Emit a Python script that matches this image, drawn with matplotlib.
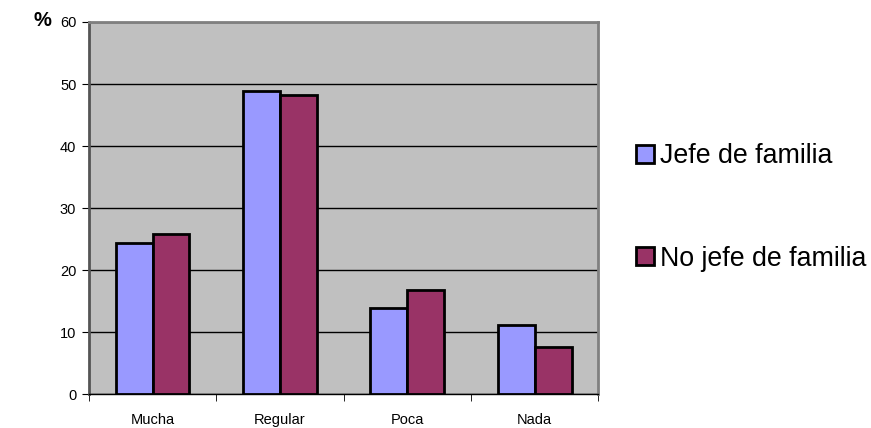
import numpy as np
import matplotlib
matplotlib.use('Agg')
from matplotlib import pyplot as plt
from matplotlib.ticker import FixedLocator

# data
categorias = ['Mucha', 'Regular', 'Poca', 'Nada']
jefe = [24.4, 48.8, 13.9, 11.1]
no_jefe = [25.8, 48.3, 16.7, 7.6]
series = ['Jefe de familia', 'No jefe de familia']

plt.rcParams['font.family'] = ['Liberation Sans', 'DejaVu Sans']

fig = plt.figure(figsize=(8.71, 4.28), dpi=100)
ax = fig.add_axes([0.102, 0.0794, 0.585, 0.8692])
ax.set_facecolor('#C0C0C0')

x = np.arange(len(categorias))
w = 0.29
ax.bar(x - w / 2, jefe, w, color='#9999FF', edgecolor='black', linewidth=2, label=series[0], zorder=3)
ax.bar(x + w / 2, no_jefe, w, color='#993366', edgecolor='black', linewidth=2, label=series[1], zorder=3)

ax.set_xlim(-0.5, len(categorias) - 0.5)
ax.set_ylim(0, 60)
ax.set_yticks(range(0, 61, 10))
ax.set_xticks(x)
ax.set_xticklabels(categorias, fontsize=10.5)
ax.tick_params(axis='x', which='major', length=0, pad=14)
ax.xaxis.set_minor_locator(FixedLocator(np.arange(-0.5, len(categorias), 1)))
ax.tick_params(axis='x', which='minor', length=5, direction='out', color='black')
ax.tick_params(axis='y', length=5, direction='out', labelsize=10.5, pad=4)

ax.yaxis.grid(True, color='black', linewidth=1)
ax.set_axisbelow(True)
for s in ['top', 'right', 'left']:
    ax.spines[s].set_color('#808080')
    ax.spines[s].set_linewidth(2)
ax.spines['left'].set_color('#555555')
ax.spines['bottom'].set_color('black')
ax.spines['bottom'].set_linewidth(1)

fig.text(0.038, 0.953, '%', fontsize=14.5, fontweight='bold', ha='left', va='center')

leg = fig.legend(loc='center left', bbox_to_anchor=(0.730, 0.515), frameon=False,
                 fontsize=19.3, handlelength=0.67, handleheight=0.67,
                 handletextpad=0.22, labelspacing=2.85, borderpad=0, borderaxespad=0)
for h in leg.legend_handles:
    h.set_linewidth(2)

fig.savefig('out.png', dpi=100)
